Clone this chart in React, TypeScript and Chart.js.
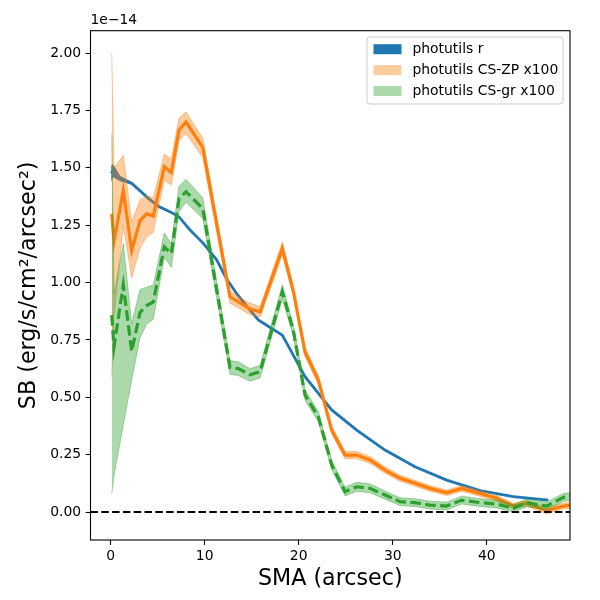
import { useEffect, useRef } from "react";
import { Chart, registerables } from "chart.js";

Chart.register(...registerables);

// SMA (arcsec) sampling of the CS profiles
const sbX = [0.11, 0.35, 1.34, 2.23, 3.12, 3.83, 4.53, 5.7, 6.45, 7.27, 8.01, 9.79, 12.69, 13.57, 14.82, 15.9, 18.26, 19.43, 20.67, 22.09, 23.51, 24.93, 26.17, 27.59, 29.18, 30.78, 32.37, 33.97, 35.74, 37.34, 39.29, 41.06, 42.83, 44.26, 46.38, 48.15, 50.0];
// photutils CS-ZP x100 (units of 1e-14)
const orangeY = [1.30, 1.18, 1.40, 1.14, 1.27, 1.30, 1.29, 1.505, 1.48, 1.665, 1.70, 1.59, 0.938, 0.916, 0.885, 0.873, 1.149, 0.962, 0.698, 0.575, 0.357, 0.248, 0.248, 0.227, 0.183, 0.147, 0.125, 0.103, 0.084, 0.103, 0.081, 0.060, 0.026, 0.038, 0.006, 0.026, 0.035];
const orangeLow = [0.59, 0.85, 1.25, 1.02, 1.15, 1.20, 1.22, 1.447, 1.425, 1.62, 1.65, 1.545, 0.91, 0.89, 0.86, 0.85, 1.12, 0.94, 0.678, 0.556, 0.340, 0.232, 0.232, 0.212, 0.169, 0.134, 0.112, 0.091, 0.072, 0.091, 0.069, 0.048, 0.014, 0.026, -0.008, 0.013, 0.022];
const orangeHigh = [2.00, 1.50, 1.555, 1.265, 1.36, 1.38, 1.37, 1.56, 1.54, 1.717, 1.744, 1.63, 0.965, 0.94, 0.91, 0.895, 1.178, 0.985, 0.718, 0.594, 0.374, 0.264, 0.264, 0.242, 0.197, 0.160, 0.138, 0.115, 0.096, 0.115, 0.093, 0.072, 0.038, 0.050, 0.020, 0.039, 0.048];
// photutils CS-gr x100
const greenY = [0.858, 0.72, 0.99, 0.70, 0.87, 0.90, 0.916, 1.156, 1.127, 1.367, 1.396, 1.323, 0.63, 0.625, 0.598, 0.612, 0.96, 0.79, 0.51, 0.415, 0.205, 0.089, 0.110, 0.103, 0.074, 0.045, 0.041, 0.030, 0.026, 0.052, 0.041, 0.035, 0.016, 0.040, 0.026, 0.064, 0.072];
const greenLow = [0.08, 0.16, 0.38, 0.575, 0.76, 0.82, 0.84, 1.11, 1.067, 1.31, 1.35, 1.28, 0.60, 0.595, 0.57, 0.585, 0.93, 0.765, 0.487, 0.393, 0.185, 0.07, 0.09, 0.084, 0.056, 0.028, 0.024, 0.013, 0.009, 0.035, 0.024, 0.018, 0.0, 0.023, 0.009, 0.047, 0.055];
const greenHigh = [1.65, 0.95, 1.17, 0.82, 0.97, 0.98, 0.99, 1.216, 1.17, 1.42, 1.45, 1.37, 0.66, 0.655, 0.625, 0.64, 0.99, 0.815, 0.533, 0.437, 0.225, 0.108, 0.13, 0.122, 0.092, 0.062, 0.058, 0.047, 0.043, 0.069, 0.058, 0.052, 0.032, 0.057, 0.043, 0.081, 0.089];
// photutils r
const blueX = [0.05, 0.28, 0.99, 2.23, 4.0, 5.06, 6.5, 7.3, 8.44, 9.85, 11.27, 12.34, 13.5, 14.82, 15.7, 17.13, 18.26, 20.67, 23.51, 26.17, 29.18, 32.37, 35.74, 39.29, 42.83, 46.55];
const blueY = [1.476, 1.487, 1.454, 1.433, 1.367, 1.333, 1.305, 1.285, 1.229, 1.171, 1.099, 1.015, 0.946, 0.88, 0.837, 0.80, 0.771, 0.59, 0.445, 0.357, 0.27, 0.197, 0.139, 0.093, 0.067, 0.052];
const blueErr = [0.035, 0.028, 0.012, 0.006, 0.004, 0.004, 0.004, 0.004, 0.004, 0.004, 0.004, 0.004, 0.004, 0.004, 0.003, 0.003, 0.003, 0.003, 0.003, 0.003, 0.002, 0.002, 0.002, 0.002, 0.002, 0.002];

const xTicks = [0, 10, 20, 30, 40];
const yTicks = [0, 0.25, 0.5, 0.75, 1.0, 1.25, 1.5, 1.75, 2.0];
const xRange = [-2.15, 48.86];
const yRange = [-0.122, 2.098];
const refLineY = 0;

const legendItems = [
  { label: "photutils r", color: "#1f77b4" },
  { label: "photutils CS-ZP x100", color: "rgba(255,127,14,0.4)" },
  { label: "photutils CS-gr x100", color: "rgba(44,160,44,0.4)" },
];

const FONT = "'DejaVu Sans', sans-serif";
const SMALL = 13.9;
const BIG = 22.2;

const pts = (xs: number[], ys: number[]) => xs.map((x, i) => ({ x, y: ys[i] }));

const decorPlugin = {
  id: "decor",
  afterDatasetsDraw(chart: any) {
    const { ctx, chartArea: a, scales } = chart;
    const y0 = scales.y.getPixelForValue(refLineY);
    ctx.save();
    ctx.beginPath();
    ctx.rect(a.left, a.top, a.right - a.left, a.bottom - a.top);
    ctx.clip();
    ctx.strokeStyle = "#000";
    ctx.lineWidth = 2;
    ctx.setLineDash([7.5, 3.3]);
    ctx.beginPath();
    ctx.moveTo(a.left, y0);
    ctx.lineTo(a.right, y0);
    ctx.stroke();
    ctx.restore();

    // frame
    ctx.save();
    ctx.strokeStyle = "#000";
    ctx.lineWidth = 1.1;
    ctx.strokeRect(a.left, a.top, a.right - a.left, a.bottom - a.top);
    ctx.restore();
  },
  afterDraw(chart: any) {
    const { ctx, chartArea: a } = chart;
    ctx.save();
    ctx.fillStyle = "#000";
    // axis titles
    ctx.font = `${BIG}px ${FONT}`;
    ctx.textAlign = "center";
    ctx.textBaseline = "middle";
    ctx.fillText("SMA (arcsec)", (a.left + a.right) / 2, 579);
    ctx.save();
    ctx.translate(29, (a.top + a.bottom) / 2);
    ctx.rotate(-Math.PI / 2);
    ctx.fillText("SB (erg/s/cm²/arcsec²)", 0, 0);
    ctx.restore();
    // offset text
    ctx.font = `${SMALL}px ${FONT}`;
    ctx.textAlign = "left";
    ctx.textBaseline = "middle";
    ctx.fillText("1e\u221214", a.left, 20.5);

    // legend
    const bx = 367, by = 37, bw = 196, bh = 67, r = 3;
    ctx.beginPath();
    ctx.moveTo(bx + r, by);
    ctx.lineTo(bx + bw - r, by);
    ctx.quadraticCurveTo(bx + bw, by, bx + bw, by + r);
    ctx.lineTo(bx + bw, by + bh - r);
    ctx.quadraticCurveTo(bx + bw, by + bh, bx + bw - r, by + bh);
    ctx.lineTo(bx + r, by + bh);
    ctx.quadraticCurveTo(bx, by + bh, bx, by + bh - r);
    ctx.lineTo(bx, by + r);
    ctx.quadraticCurveTo(bx, by, bx + r, by);
    ctx.closePath();
    ctx.fillStyle = "rgba(255,255,255,0.8)";
    ctx.fill();
    ctx.strokeStyle = "#cccccc";
    ctx.lineWidth = 1;
    ctx.stroke();
    ctx.font = `${SMALL}px ${FONT}`;
    ctx.textBaseline = "middle";
    legendItems.forEach((it, i) => {
      const cy = 49.2 + i * 20.9;
      ctx.fillStyle = "#fff";
      ctx.fillRect(373.5, cy - 5, 28, 10);
      ctx.fillStyle = it.color;
      ctx.fillRect(373.5, cy - 5, 28, 10);
      ctx.fillStyle = "#000";
      ctx.fillText(it.label, 412.5, cy + 0.5);
    });
    ctx.restore();
  },
};

export default function App() {
  const ref = useRef<HTMLCanvasElement>(null);
  useEffect(() => {
    if (!ref.current) return;
    const band = (color: string) => ({
      borderColor: color,
      borderWidth: 1,
      pointRadius: 0,
      tension: 0,
      clip: 0,
    });
    const tickFont = { family: FONT, size: SMALL };
    const grid = {
      display: true,
      drawOnChartArea: false,
      drawTicks: true,
      tickLength: 4.9,
      tickColor: "#000",
      tickWidth: 1.1,
    };
    const chart = new Chart(ref.current, {
      type: "line",
      data: {
        datasets: [
          {
            label: "blueHigh",
            data: pts(blueX, blueY.map((v, i) => v + blueErr[i])),
            borderColor: "transparent",
            borderWidth: 0,
            backgroundColor: "#1f77b4",
            fill: "+1",
            pointRadius: 0,
            order: 6,
            clip: 0,
          },
          {
            label: "blueLow",
            data: pts(blueX, blueY.map((v, i) => v - blueErr[i])),
            borderColor: "transparent",
            borderWidth: 0,
            fill: false,
            pointRadius: 0,
            order: 6,
            clip: 0,
          },
          {
            label: "photutils r",
            data: pts(blueX, blueY),
            borderColor: "#1f77b4",
            borderWidth: 2.8,
            fill: false,
            pointRadius: 0,
            tension: 0,
            order: 5,
            clip: 0,
          },
          {
            label: "orangeHigh",
            data: pts(sbX, orangeHigh),
            ...band("rgba(255,127,14,0.4)"),
            backgroundColor: "rgba(255,127,14,0.4)",
            fill: "+1",
            order: 4,
          },
          {
            label: "orangeLow",
            data: pts(sbX, orangeLow),
            ...band("rgba(255,127,14,0.4)"),
            fill: false,
            order: 4,
          },
          {
            label: "photutils CS-ZP x100",
            data: pts(sbX, orangeY),
            borderColor: "#ff7f0e",
            borderWidth: 3.2,
            fill: false,
            pointRadius: 0,
            tension: 0,
            order: 3,
            clip: 0,
          },
          {
            label: "greenHigh",
            data: pts(sbX, greenHigh),
            ...band("rgba(44,160,44,0.4)"),
            backgroundColor: "rgba(44,160,44,0.4)",
            fill: "+1",
            order: 2,
          },
          {
            label: "greenLow",
            data: pts(sbX, greenLow),
            ...band("rgba(44,160,44,0.4)"),
            fill: false,
            order: 2,
          },
          {
            label: "photutils CS-gr x100",
            data: pts(sbX, greenY),
            borderColor: "#2ca02c",
            borderWidth: 3.2,
            borderDash: [10.5, 4.5],
            fill: false,
            pointRadius: 0,
            tension: 0,
            order: 1,
            clip: 0,
          },
        ],
      },
      options: {
        animation: false,
        responsive: false,
        devicePixelRatio: 1,
        layout: { padding: { top: 30.7, right: 30, left: 0, bottom: 0 } },
        plugins: {
          legend: { display: false },
          tooltip: { enabled: false },
          title: { display: false },
        },
        scales: {
          x: {
            type: "linear",
            min: xRange[0],
            max: xRange[1],
            afterBuildTicks: (s: any) => {
              s.ticks = xTicks.map((v) => ({ value: v }));
            },
            afterFit: (s: any) => {
              s.height = 60;
            },
            ticks: {
              font: tickFont,
              color: "#000",
              padding: 3,
              maxRotation: 0,
              callback: (v: any) => String(v),
            },
            grid,
            border: { display: false },
          },
          y: {
            type: "linear",
            min: yRange[0],
            max: yRange[1],
            afterBuildTicks: (s: any) => {
              s.ticks = yTicks.map((v) => ({ value: v }));
            },
            afterFit: (s: any) => {
              s.width = 90.5;
            },
            ticks: {
              font: tickFont,
              color: "#000",
              padding: 4.5,
              callback: (v: any) => Number(v).toFixed(2),
            },
            grid,
            border: { display: false },
          },
        },
      } as any,
      plugins: [decorPlugin],
    });
    return () => chart.destroy();
  }, []);
  return (
    <div style={{ position: "absolute", left: 0, top: 0, width: 600, height: 600, background: "#fff" }}>
      <canvas ref={ref} width={600} height={600} style={{ width: 600, height: 600, display: "block" }} />
    </div>
  );
}
